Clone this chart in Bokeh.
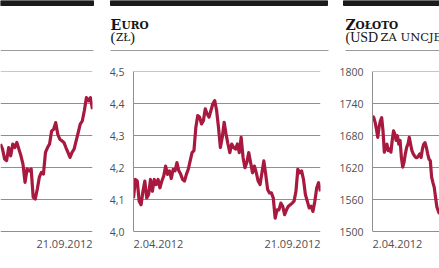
import pandas as pd
from bokeh.plotting import figure
from bokeh.layouts import column, row
from bokeh.models import Range1d, FixedTicker, CustomJSTickFormatter
from bokeh.core.properties import value
from bokeh.embed import file_html
from bokeh.resources import INLINE

# ---------------- data ----------------
PERIOD_START = "2012-04-02"
PERIOD_END = "2012-09-21"
DATE_LABELS = ["2.04.2012", "21.09.2012"]

# left (cut-off) panel: only its last part is visible
left_visible_start = "2012-06-29"
left_values = [2274, 2258, 2227, 2222, 2263, 2237, 2274, 2263, 2279, 2258,
               2237, 2211, 2154, 2196, 2190, 2196, 2107, 2102, 2133, 2170,
               2185, 2180, 2248, 2263, 2274, 2315, 2320, 2341, 2305, 2289,
               2284, 2279, 2263, 2248, 2232, 2248, 2258, 2284, 2310, 2336,
               2346, 2378, 2419, 2409, 2419, 2383]
left_ticks = [2000, 2100, 2200, 2300, 2400, 2500]

# Euro (zł)
euro_values = [4.105, 4.163, 4.158, 4.095, 4.084, 4.126, 4.158, 4.105, 4.116, 4.163,
               4.126, 4.163, 4.147, 4.163, 4.137, 4.158, 4.174, 4.205, 4.179, 4.190,
               4.166, 4.195, 4.190, 4.216, 4.190, 4.179, 4.163, 4.158, 4.179, 4.195,
               4.221, 4.247, 4.253, 4.326, 4.363, 4.358, 4.337, 4.347, 4.384, 4.368,
               4.358, 4.379, 4.400, 4.410, 4.379, 4.326, 4.263, 4.295, 4.342, 4.305,
               4.274, 4.247, 4.274, 4.263, 4.258, 4.274, 4.247, 4.295, 4.232, 4.200,
               4.216, 4.247, 4.216, 4.184, 4.205, 4.184, 4.158, 4.147, 4.184, 4.221,
               4.179, 4.132, 4.121, 4.121, 4.105, 4.042, 4.068, 4.068, 4.089, 4.079,
               4.053, 4.068, 4.079, 4.084, 4.089, 4.095, 4.126, 4.195, 4.184, 4.190,
               4.163, 4.116, 4.095, 4.074, 4.079, 4.063, 4.095, 4.137, 4.153, 4.126]
euro_ticks = [4.0, 4.1, 4.2, 4.3, 4.4, 4.5]

# Złoto (USD za uncję): only its first part is visible
gold_visible_end = "2012-06-02"
gold_values = [1717, 1714, 1705, 1692, 1677, 1696, 1708, 1714, 1689, 1649,
               1658, 1664, 1652, 1655, 1649, 1671, 1689, 1683, 1671, 1680,
               1664, 1671, 1639, 1621, 1630, 1646, 1658, 1664, 1677, 1664,
               1652, 1646, 1642, 1639, 1639, 1642, 1646, 1639, 1655, 1664,
               1667, 1658, 1646, 1636, 1633, 1602, 1592, 1583, 1564, 1546,
               1539, 1533]
gold_ticks = [1500, 1560, 1620, 1680, 1740, 1800]

# ---------------- style ----------------
LINE = "#a8193f"
GRID = "#8f8f8f"
LABEL = "#505050"
TICK_FONT = "Open Sans"

def chart(width, b_left, b_right, dates, values, ticks, x0, x1, show_axis,
          comma, labels):
    t_min, t_max = ticks[0], ticks[-1]
    span = t_max - t_min
    lo = t_min - span * 21 / 160
    hi = t_max + span * 0.002
    p = figure(width=width, height=208, output_backend="svg", toolbar_location=None,
               x_axis_type="datetime", x_range=Range1d(x0, x1), y_range=Range1d(lo, hi),
               min_border_left=b_left, min_border_right=b_right,
               min_border_top=11, min_border_bottom=16)
    p.outline_line_color = None
    p.xaxis.visible = False
    p.xgrid.visible = False
    p.ygrid.ticker = FixedTicker(ticks=ticks)
    p.ygrid.grid_line_color = GRID
    p.ygrid.grid_line_width = 1
    if show_axis:
        ax = p.yaxis[0]
        ax.ticker = FixedTicker(ticks=ticks)
        ax.bounds = (t_min, t_max)
        ax.axis_line_color = GRID
        ax.major_tick_line_color = None
        ax.minor_tick_line_color = None
        ax.major_label_standoff = 3
        ax.major_label_text_font = TICK_FONT
        ax.major_label_text_font_size = "10.5px"
        ax.major_label_text_color = LABEL
        if comma:
            ax.formatter = CustomJSTickFormatter(code="return tick.toFixed(1).replace('.', ',')")
    else:
        p.yaxis.visible = False
    p.line(dates, values, line_color=LINE, line_width=3.2, line_join="round")
    y_lab = t_min - span * 12 / 160
    for x, txt, align in labels:
        p.text(x=[x], y=[y_lab], text=[txt], text_align=align, text_baseline="middle",
               text_font=value(TICK_FONT), text_font_size="11px", text_color=LABEL)
    return p

start = pd.Timestamp(PERIOD_START)
end = pd.Timestamp(PERIOD_END)

left_dates = pd.date_range(left_visible_start, PERIOD_END, periods=len(left_values))
euro_dates = pd.date_range(PERIOD_START, PERIOD_END, periods=len(euro_values))
gold_dates = pd.date_range(PERIOD_START, gold_visible_end, periods=len(gold_values))

pL = chart(100, 0, 8, left_dates, left_values, left_ticks,
           pd.Timestamp(left_visible_start), end, False, False,
           [(end, DATE_LABELS[1], "right")])
pM = chart(235, 33, 15, euro_dates, euro_values, euro_ticks, start, end, True, True,
           [(start, DATE_LABELS[0], "left"), (end, DATE_LABELS[1], "right")])
pR = chart(104, 37, 0, gold_dates, gold_values, gold_ticks,
           start, pd.Timestamp(gold_visible_end), True, False,
           [(start, DATE_LABELS[0], "left")])

# ---------------- header ----------------
h = figure(width=439, height=60, output_backend="svg", toolbar_location=None,
           x_range=Range1d(0, 439), y_range=Range1d(60, 0),
           x_axis_location=None, y_axis_location=None, min_border=0)
h.outline_line_color = None
h.grid.visible = False
h.quad(left=[0, 110, 343], right=[93, 327, 439], top=[0, 0, 0], bottom=[5, 5, 5],
       color="#1b1b1b")
h.segment(x0=[0, 110, 345], x1=[93, 328, 439], y0=[50, 50, 50], y1=[50, 50, 50],
          line_color="#9a9a9a", line_width=1)

def htext(x, y, t, font, size, bold=False):
    h.text(x=[x], y=[y], text=[t], text_font=value(font), text_font_size=size,
           text_font_style="bold" if bold else "normal", text_color="#151515",
           text_baseline="alphabetic", text_align="left")

SLAB = "DejaVu Serif"
SERIF = "Liberation Serif"
# Euro (zł)
htext(110, 24, "E", SLAB, "14px", True)
htext(121, 24, "URO", SLAB, "10.5px", True)
htext(110, 36.5, "(", SERIF, "15px")
htext(115.5, 36, "ZŁ", SLAB, "10.5px")
htext(129.5, 36.5, ")", SERIF, "15px")
# Złoto (USD za uncję)
htext(345, 24, "Z", SLAB, "14px", True)
htext(355, 24, "OŁOTO", SLAB, "10.5px", True)
htext(345, 36.5, "(USD", SERIF, "14px")
htext(380, 36, "ZA UNCJĘ)", SLAB, "11.5px")

layout = column(h, row(pL, pM, pR, spacing=0), spacing=0)
open("out.html", "w").write(file_html(layout, INLINE))
